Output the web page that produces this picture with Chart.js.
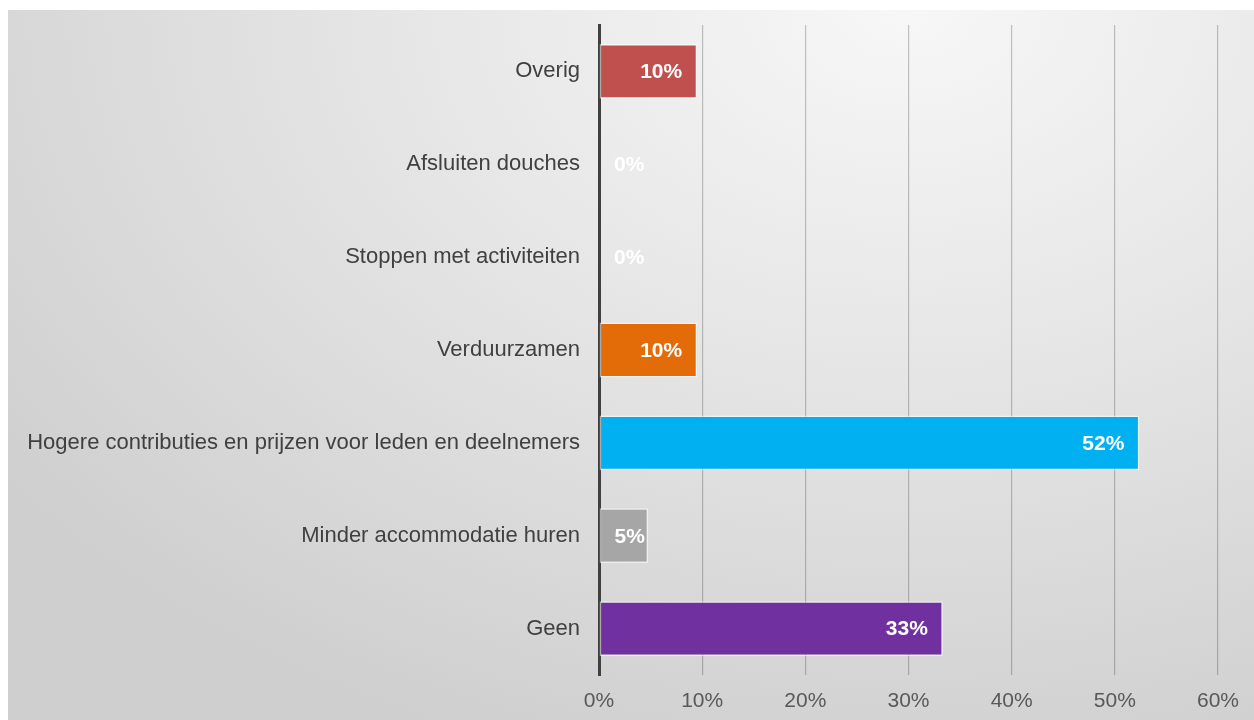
<!DOCTYPE html>
<html>
<head>
<meta charset="utf-8">
<script src="https://cdn.jsdelivr.net/npm/chart.js@4/dist/chart.umd.min.js"></script>
<style>
  html, body { margin: 0; padding: 0; background: #ffffff; }
  #wrap {
    position: relative;
    width: 1254px;
    height: 720px;
  }
  #bg {
    position: absolute;
    left: 8px; top: 10px; right: 0; bottom: 0;
    background: radial-gradient(ellipse 90% 110% at 72% 0%, #f7f7f7 0%, #e6e6e6 45%, #cfcfcf 100%);
  }
  #myChart { position: absolute; left: 0; top: 0; }
</style>
</head>
<body>
<div id="wrap">
  <div id="bg"></div>
  <canvas id="myChart" width="1254" height="720"></canvas>
</div>
<script>
const categories = [
    'Overig',
    'Afsluiten douches',
    'Stoppen met activiteiten',
    'Verduurzamen',
    'Hogere contributies en prijzen voor leden en deelnemers',
    'Minder accommodatie huren',
    'Geen'
];
const shares = [9.52, 0, 0, 9.52, 52.38, 4.76, 33.33];
const barColors = ['#c0504d', '#a5a5a5', '#4f81bd', '#e36c09', '#00b0f0', '#a6a6a6', '#7030a0'];
const xTicks = [0, 10, 20, 30, 40, 50, 60];

const fontFamily = 'Arial, "Liberation Sans", sans-serif';
const gridColor = 'rgba(0, 0, 0, 0.22)';

// value labels inside the end of each bar
const valueLabels = {
    id: 'valueLabels',
    afterDatasetsDraw(chart) {
        const ctx = chart.ctx;
        const meta = chart.getDatasetMeta(0);
        ctx.save();
        ctx.font = 'bold 21px ' + fontFamily;
        ctx.fillStyle = '#ffffff';
        ctx.textBaseline = 'middle';
        meta.data.forEach((bar, i) => {
            const text = Math.round(shares[i]) + '%';
            const w = ctx.measureText(text).width;
            if (bar.x - bar.base > w + 24) {
                ctx.textAlign = 'right';
                ctx.fillText(text, bar.x - 15, bar.y + 1);
            } else {
                ctx.textAlign = 'left';
                ctx.fillText(text, bar.base + 15, bar.y + 1);
            }
        });
        ctx.restore();
    }
};

const data = {
    labels: categories,
    datasets: [{
        data: shares,
        backgroundColor: barColors,
        borderColor: 'rgba(255, 255, 255, 0.55)',
        borderWidth: 1.5,
        borderSkipped: false,
        barPercentage: 0.59,
        categoryPercentage: 1.0
    }]
};

const config = {
    type: 'bar',
    data: data,
    options: {
        indexAxis: 'y',
        responsive: false,
        animation: false,
        layout: {
            padding: { top: 25, right: 36, bottom: 0, left: 0 }
        },
        plugins: {
            legend: { display: false },
            tooltip: { enabled: false }
        },
        scales: {
            x: {
                min: 0,
                max: 60,
                afterBuildTicks: function(scale) {
                    scale.ticks = xTicks.map(v => ({ value: v }));
                },
                afterFit: function(scale) {
                    scale.height = 45;
                    scale.paddingLeft = 0;
                    scale.paddingRight = 0;
                },
                border: { display: false },
                grid: {
                    drawTicks: false,
                    lineWidth: 1.2,
                    color: c => c.tick && c.tick.value === 0 ? 'rgba(0,0,0,0)' : gridColor
                },
                ticks: {
                    padding: 14,
                    color: '#595959',
                    font: { family: fontFamily, size: 21 },
                    callback: v => v + '%'
                }
            },
            y: {
                afterFit: function(scale) {
                    scale.width = 599;
                    scale.paddingTop = 0;
                    scale.paddingBottom = 0;
                },
                grid: { display: false, drawTicks: false },
                border: { display: true, color: '#404040', width: 3 },
                ticks: {
                    padding: 19,
                    color: '#404040',
                    font: { family: fontFamily, size: 22 }
                }
            }
        }
    },
    plugins: [valueLabels]
};

const ctx = document.getElementById('myChart').getContext('2d');
const myChart = new Chart(ctx, config);
</script>
</body>
</html>
